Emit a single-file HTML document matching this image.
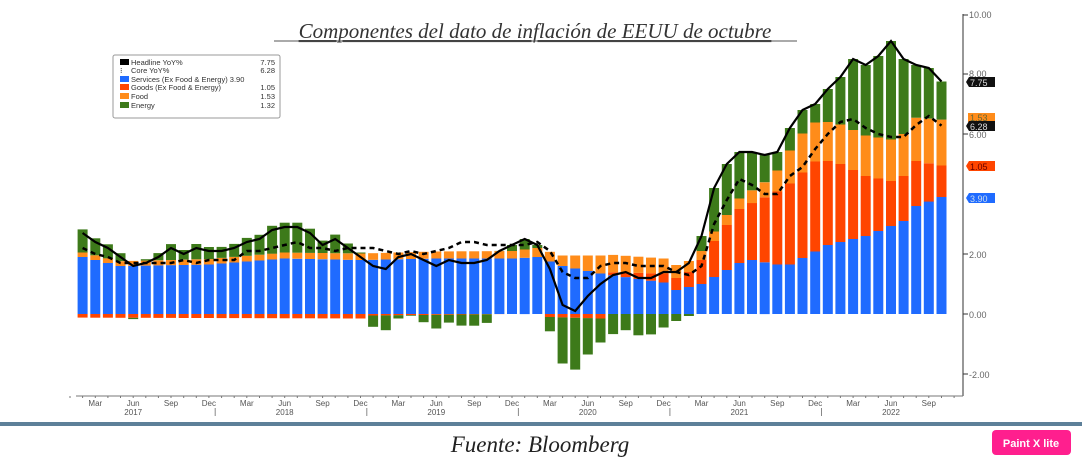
<!DOCTYPE html>
<html><head><meta charset="utf-8"><style>
html,body{margin:0;padding:0;background:#fff;width:1082px;height:464px;overflow:hidden}
svg{display:block}
</style></head><body>
<svg id="c" width="1082" height="464" xmlns="http://www.w3.org/2000/svg" font-family="Liberation Sans, sans-serif">
<rect width="1082" height="464" fill="#fff"/>
<text x="535" y="38" text-anchor="middle" font-family="Liberation Serif, serif" font-style="italic" font-size="21" fill="#333" text-decoration="underline">Componentes del dato de inflación de EEUU de octubre</text>
<line x1="535" x2="535" y1="0" y2="0"/>
<line x1="274" x2="797" y1="41" y2="41" stroke="#555" stroke-width="1"/>
<g id="bars"></g>
<g id="lines"></g>
<!-- right axis -->
<line x1="963" y1="14" x2="963" y2="396" stroke="#777" stroke-width="1.5"/>
<g font-size="9" fill="#666">
<line x1="963" x2="968" y1="15" y2="15" stroke="#333"/><text x="969" y="18">10.00</text>
<line x1="963" x2="968" y1="74" y2="74" stroke="#333"/><text x="969" y="77">8.00</text>
<line x1="963" x2="968" y1="134" y2="134" stroke="#333"/><text x="969" y="138">6.00</text>
<line x1="963" x2="968" y1="254" y2="254" stroke="#333"/><text x="969" y="258">2.00</text>
<line x1="963" x2="968" y1="314" y2="314" stroke="#333"/><text x="969" y="318">0.00</text>
<line x1="963" x2="968" y1="374" y2="374" stroke="#333"/><text x="969" y="378">-2.00</text>
</g>
<g font-size="9">
<rect x="968" y="113" width="27" height="9" fill="#ff8c1a"/><text x="970" y="121" fill="#663">1.53</text>
<path d="M966 82 l3 -5 h26 v10 h-26z" fill="#111"/><text x="970" y="86" fill="#ddd">7.75</text>
<path d="M966 126 l3 -5 h26 v10 h-26z" fill="#111"/><text x="970" y="130" fill="#ddd">6.28</text>
<path d="M966 166 l3 -5 h26 v10 h-26z" fill="#ff4500"/><text x="970" y="170" fill="#600">1.05</text>
<path d="M966 198 l3 -5 h26 v10 h-26z" fill="#1f6bff"/><text x="970" y="202" fill="#cde">3.90</text>
</g>
<!-- legend -->
<rect x="113" y="55" width="167" height="63" rx="2" fill="#fff" stroke="#999" stroke-width="1"/>
<g font-size="7.5" fill="#333">
<rect x="120" y="59" width="9" height="6" fill="#000"/><text x="131" y="65">Headline YoY%</text><text x="275" y="65" text-anchor="end">7.75</text>
<text x="120" y="73" fill="#000">⁝</text><text x="131" y="73">Core YoY%</text><text x="275" y="73" text-anchor="end">6.28</text>
<rect x="120" y="76" width="9" height="6" fill="#1f6bff"/><text x="131" y="82">Services (Ex Food &amp; Energy) 3.90</text>
<rect x="120" y="84" width="9" height="6" fill="#ff4500"/><text x="131" y="90">Goods (Ex Food &amp; Energy)</text><text x="275" y="90" text-anchor="end">1.05</text>
<rect x="120" y="93" width="9" height="6" fill="#ff8c1a"/><text x="131" y="99">Food</text><text x="275" y="99" text-anchor="end">1.53</text>
<rect x="120" y="102" width="9" height="6" fill="#3d7a1a"/><text x="131" y="108">Energy</text><text x="275" y="108" text-anchor="end">1.32</text>
</g>
<!-- x axis -->
<line x1="76" y1="396" x2="963" y2="396" stroke="#777" stroke-width="1"/>
<g id="xax" font-size="8" fill="#555"></g>
<rect x="0" y="422" width="1082" height="4" fill="#5d8099"/>
<text x="540" y="452" text-anchor="middle" font-family="Liberation Serif, serif" font-style="italic" font-size="23" fill="#222">Fuente: Bloomberg</text>
<rect x="992" y="430" width="79" height="25" rx="4" fill="#ff1f8e"/>
<text x="1031" y="447" text-anchor="middle" font-size="11" font-weight="bold" fill="#fff">Paint X lite</text>
</svg>
<script>
function interp(kp,n){var k=Object.keys(kp).map(Number).sort(function(a,b){return a-b});var r=[];for(var i=0;i<n;i++){var j=0;while(j<k.length-1&&k[j+1]<=i)j++;if(i<=k[0]){r.push(kp[k[0]]);continue}if(j>=k.length-1){r.push(kp[k[k.length-1]]);continue}var a=k[j],b=k[j+1];r.push(kp[a]+(kp[b]-kp[a])*(i-a)/(b-a));}return r;}
var H=[2.5,2.7,2.4,2.2,1.9,1.6,1.7,1.9,2.2,2.0,2.2,2.1,2.1,2.2,2.4,2.5,2.8,2.9,2.9,2.7,2.3,2.5,2.2,1.9,1.6,1.5,1.9,2.0,1.8,1.6,1.8,1.7,1.7,1.8,2.1,2.3,2.5,2.3,1.5,0.3,0.1,0.6,1.0,1.3,1.4,1.2,1.2,1.4,1.4,1.7,2.6,4.2,5.0,5.4,5.4,5.3,5.4,6.2,6.8,7.0,7.5,7.9,8.5,8.3,8.6,9.1,8.5,8.3,8.2,7.75];
var C=[2.3,2.2,2.0,1.9,1.7,1.7,1.7,1.7,1.7,1.8,1.7,1.8,1.8,1.8,2.1,2.1,2.2,2.3,2.4,2.2,2.2,2.1,2.2,2.2,2.2,2.1,2.0,2.1,2.0,2.1,2.2,2.4,2.4,2.3,2.3,2.3,2.3,2.4,2.1,1.4,1.2,1.2,1.6,1.7,1.7,1.6,1.6,1.6,1.4,1.3,1.6,3.0,3.8,4.5,4.3,4.0,4.0,4.6,4.9,5.5,6.0,6.4,6.5,6.2,6.0,5.9,5.9,6.3,6.6,6.28];
var N=70;
var S=interp({0:1.9,1:1.9,4:1.6,11:1.65,17:1.85,23:1.8,29:1.85,35:1.85,37:1.9,39:1.6,42:1.35,47:1.05,48:0.8,50:1.0,53:1.7,54:1.8,56:1.65,57:1.65,60:2.3,63:2.6,66:3.1,67:3.6,69:3.9},N);
var G=interp({0:-0.12,23:-0.15,24:-0.05,35:0,37:0,38:-0.1,42:-0.15,43:0.1,47:0.3,49:0.5,50:0.8,51:1.2,53:1.8,54:1.9,57:2.7,59:3.0,61:2.6,63:2.0,65:1.5,67:1.5,69:1.05},N);
var F=interp({0:0.15,35:0.25,39:0.35,42:0.6,47:0.5,50:0.3,53:0.35,55:0.5,56:0.7,57:1.1,58:1.3,60:1.3,66:1.4,69:1.53},N);
function X(i){return 70+12.63*i}function Y(v){return 314-30*v}
var b='',ns='http://www.w3.org/2000/svg';
var cols=['#1f6bff','#ff4500','#ff8c1a','#3d7a1a'];
for(var i=1;i<N;i++){var E=H[i]-S[i]-G[i]-F[i];var vals=[S[i],G[i],F[i],E];var pos=0,neg=0;var x=X(i)-5;
for(var k=0;k<4;k++){var v=vals[k];if(v>=0){b+='<rect x="'+x.toFixed(1)+'" y="'+Y(pos+v).toFixed(1)+'" width="10" height="'+(30*v).toFixed(1)+'" fill="'+cols[k]+'"/>';pos+=v;}else{b+='<rect x="'+x.toFixed(1)+'" y="'+Y(neg).toFixed(1)+'" width="10" height="'+(-30*v).toFixed(1)+'" fill="'+cols[k]+'"/>';neg+=v;}}}
var hp='',cp='';for(var i=1;i<N;i++){hp+=(i==1?'M':'L')+X(i).toFixed(1)+' '+Y(H[i]).toFixed(1);cp+=(i==1?'M':'L')+X(i).toFixed(1)+' '+Y(C[i]).toFixed(1);}
document.getElementById('bars').innerHTML=b;
document.getElementById('lines').innerHTML='<path d="'+cp+'" fill="none" stroke="#000" stroke-width="2.5" stroke-dasharray="5,4"/><path d="'+hp+'" fill="none" stroke="#000" stroke-width="2.2"/>';
var ax='',m=['Mar','Jun','Sep','Dec'];
for(var i=0;i<=70;i++){ax+='<line x1="'+X(i).toFixed(1)+'" x2="'+X(i).toFixed(1)+'" y1="396" y2="398" stroke="#777"/>';}
for(var y=0;y<6;y++){for(var q=0;q<4;q++){var idx=y*12+2+q*3;if(idx>69)continue;ax+='<text x="'+X(idx).toFixed(1)+'" y="406" text-anchor="middle">'+m[q]+'</text>';}
ax+='<text x="'+X(y*12+5).toFixed(1)+'" y="415" text-anchor="middle">'+(2017+y)+'</text>';
if(y<5)ax+='<line x1="'+X(y*12+11.5).toFixed(1)+'" x2="'+X(y*12+11.5).toFixed(1)+'" y1="408" y2="416" stroke="#888"/>';}
document.getElementById('xax').innerHTML=ax;
</script>
</body></html>
